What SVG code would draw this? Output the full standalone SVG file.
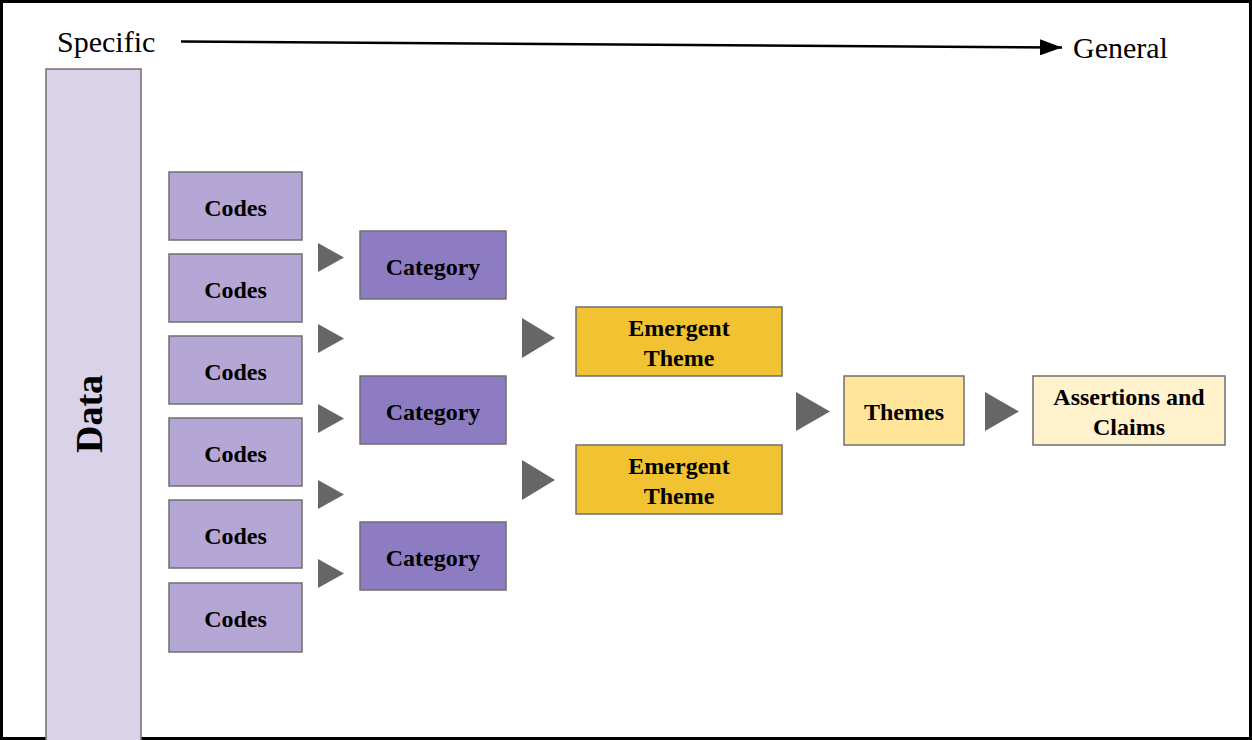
<svg xmlns="http://www.w3.org/2000/svg" width="1252" height="740" viewBox="0 0 1252 740">
  <style>
    .box { stroke: #6f6f6f; stroke-width: 1.5; }
    .codes { fill: #b4a7d6; }
    .cat { fill: #8e7cc3; }
    .emg { fill: #f1c232; }
    .thm { fill: #ffe599; }
    .asr { fill: #fff2cc; }
    .lbl { font-family: "Liberation Serif", "Times New Roman", serif; font-weight: bold; font-size: 24px; fill: #000; text-anchor: middle; }
    .axis { font-family: "Liberation Serif", "Times New Roman", serif; font-size: 30px; fill: #000; }
    .tri { fill: #666666; }
  </style>
  <defs>
    <marker id="head" viewBox="0 0 22 16" refX="22" refY="8" markerWidth="22" markerHeight="16" markerUnits="userSpaceOnUse" orient="auto">
      <path d="M0,0 L22,8 L0,16 z" fill="#000"/>
    </marker>
  </defs>

  <rect x="0" y="0" width="1252" height="740" fill="#fff"/>
  <!-- outer frame -->
  <rect x="1.5" y="1.5" width="1249" height="737" fill="none" stroke="#000" stroke-width="3"/>

  <!-- axis -->
  <g id="axis">
    <text class="axis" x="57" y="52">Specific</text>
    <line x1="181" y1="41.5" x2="1062" y2="47.5" stroke="#000" stroke-width="2.5" marker-end="url(#head)"/>
    <text class="axis" x="1073" y="58">General</text>
  </g>

  <!-- data column -->
  <g id="data">
    <rect class="box" x="46" y="69" width="95" height="680" fill="#d9d2e9"/>
    <text class="lbl" transform="translate(102,414) rotate(-90)" style="font-size:38px">Data</text>
  </g>

  <!-- codes -->
  <g id="codes1"><rect class="box codes" x="169" y="172" width="133" height="68"/><text class="lbl" x="235.5" y="216">Codes</text></g>
  <g id="codes2"><rect class="box codes" x="169" y="254" width="133" height="68"/><text class="lbl" x="235.5" y="298">Codes</text></g>
  <g id="codes3"><rect class="box codes" x="169" y="336" width="133" height="68"/><text class="lbl" x="235.5" y="380">Codes</text></g>
  <g id="codes4"><rect class="box codes" x="169" y="418" width="133" height="68"/><text class="lbl" x="235.5" y="462">Codes</text></g>
  <g id="codes5"><rect class="box codes" x="169" y="500" width="133" height="68"/><text class="lbl" x="235.5" y="544">Codes</text></g>
  <g id="codes6"><rect class="box codes" x="169" y="583" width="133" height="69"/><text class="lbl" x="235.5" y="627">Codes</text></g>

  <!-- categories -->
  <g id="category1"><rect class="box cat" x="360" y="231" width="146" height="68"/><text class="lbl" x="433" y="275">Category</text></g>
  <g id="category2"><rect class="box cat" x="360" y="376" width="146" height="68"/><text class="lbl" x="433" y="420">Category</text></g>
  <g id="category3"><rect class="box cat" x="360" y="522" width="146" height="68"/><text class="lbl" x="433" y="566">Category</text></g>

  <!-- emergent themes -->
  <g id="emergent1"><rect class="box emg" x="576" y="307" width="206" height="69"/><text class="lbl" x="679" y="336">Emergent</text><text class="lbl" x="679" y="366">Theme</text></g>
  <g id="emergent2"><rect class="box emg" x="576" y="445" width="206" height="69"/><text class="lbl" x="679" y="474">Emergent</text><text class="lbl" x="679" y="504">Theme</text></g>

  <!-- themes -->
  <g id="themes"><rect class="box thm" x="844" y="376" width="120" height="69"/><text class="lbl" x="904" y="420">Themes</text></g>

  <!-- assertions -->
  <g id="assertions"><rect class="box asr" x="1033" y="376" width="192" height="69"/><text class="lbl" x="1129" y="405">Assertions and</text><text class="lbl" x="1129" y="435">Claims</text></g>

  <!-- connectors -->
  <g id="connectors">
    <polygon class="tri" points="318,243 344,257.5 318,272"/>
    <polygon class="tri" points="318,324 344,338.5 318,353"/>
    <polygon class="tri" points="318,404 344,418.5 318,433"/>
    <polygon class="tri" points="318,480 344,494.5 318,509"/>
    <polygon class="tri" points="318,559 344,573.5 318,588"/>
    <polygon class="tri" points="522,318 555,338 522,358"/>
    <polygon class="tri" points="522,460 555,480 522,500"/>
    <polygon class="tri" points="796,392 830,411.5 796,431"/>
    <polygon class="tri" points="985,392 1019,411.5 985,431"/>
  </g>
</svg>
